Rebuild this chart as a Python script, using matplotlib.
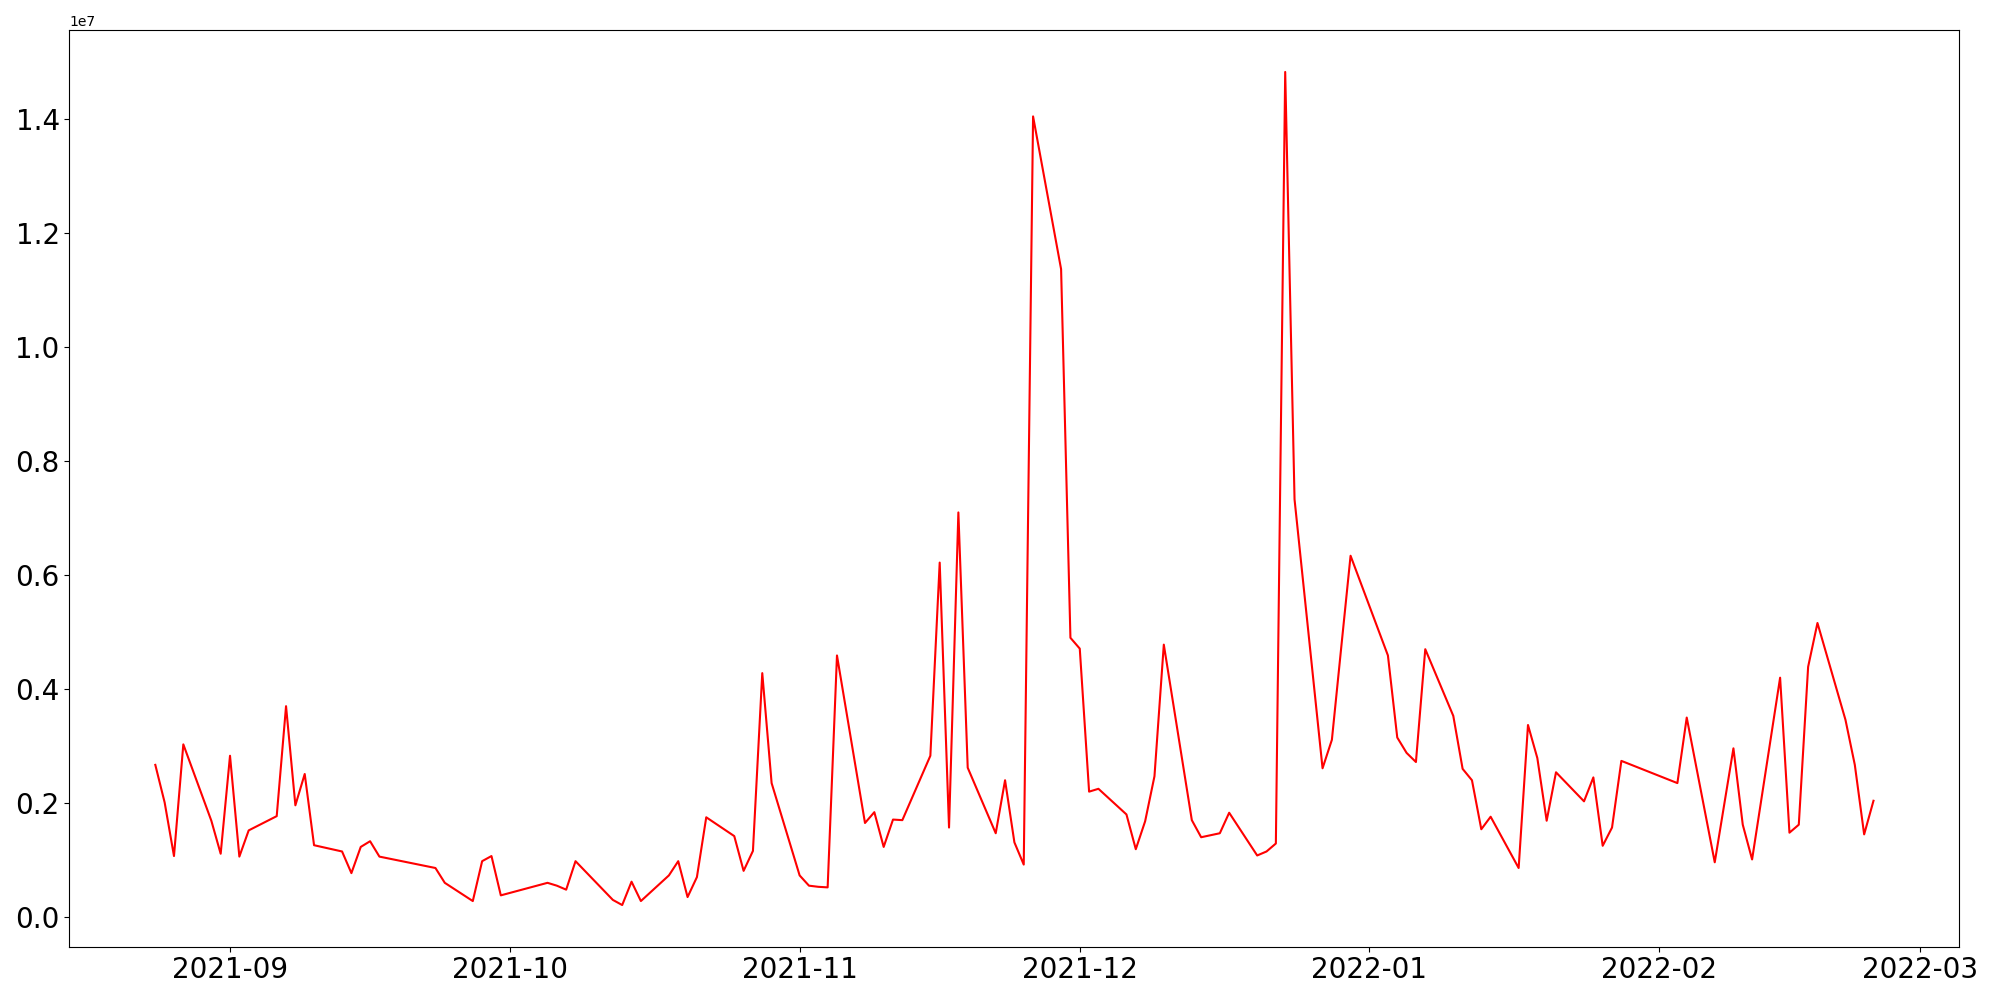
import numpy as np
import pandas as pd
import matplotlib
matplotlib.use("Agg")
import matplotlib.pyplot as plt

# daily values (trading days)
dates = pd.to_datetime([
    "2021-08-24", "2021-08-25", "2021-08-26", "2021-08-27", "2021-08-30",
    "2021-08-31", "2021-09-01", "2021-09-02", "2021-09-03", "2021-09-06",
    "2021-09-07", "2021-09-08", "2021-09-09", "2021-09-10", "2021-09-13",
    "2021-09-14", "2021-09-15", "2021-09-16", "2021-09-17", "2021-09-23",
    "2021-09-24", "2021-09-27", "2021-09-28", "2021-09-29", "2021-09-30",
    "2021-10-05", "2021-10-06", "2021-10-07", "2021-10-08", "2021-10-12",
    "2021-10-13", "2021-10-14", "2021-10-15", "2021-10-18", "2021-10-19",
    "2021-10-20", "2021-10-21", "2021-10-22", "2021-10-25", "2021-10-26",
    "2021-10-27", "2021-10-28", "2021-10-29", "2021-11-01", "2021-11-02",
    "2021-11-03", "2021-11-04", "2021-11-05", "2021-11-08", "2021-11-09",
    "2021-11-10", "2021-11-11", "2021-11-12", "2021-11-15", "2021-11-16",
    "2021-11-17", "2021-11-18", "2021-11-19", "2021-11-22", "2021-11-23",
    "2021-11-24", "2021-11-25", "2021-11-26", "2021-11-29", "2021-11-30",
    "2021-12-01", "2021-12-02", "2021-12-03", "2021-12-06", "2021-12-07",
    "2021-12-08", "2021-12-09", "2021-12-10", "2021-12-13", "2021-12-14",
    "2021-12-16", "2021-12-17", "2021-12-20", "2021-12-21", "2021-12-22",
    "2021-12-23", "2021-12-24", "2021-12-27", "2021-12-28", "2021-12-29",
    "2021-12-30", "2022-01-03", "2022-01-04", "2022-01-05", "2022-01-06",
    "2022-01-07", "2022-01-10", "2022-01-11", "2022-01-12", "2022-01-13",
    "2022-01-14", "2022-01-17", "2022-01-18", "2022-01-19", "2022-01-20",
    "2022-01-21", "2022-01-24", "2022-01-25", "2022-01-26", "2022-01-27",
    "2022-01-28", "2022-02-03", "2022-02-04", "2022-02-07", "2022-02-09",
    "2022-02-10", "2022-02-11", "2022-02-14", "2022-02-15", "2022-02-16",
    "2022-02-17", "2022-02-18", "2022-02-21", "2022-02-22", "2022-02-23",
    "2022-02-24",
])

values_m = [
    2.67, 2.01, 1.07, 3.03, 1.69,
    1.11, 2.83, 1.06, 1.52, 1.77,
    3.70, 1.96, 2.51, 1.26, 1.15,
    0.77, 1.23, 1.33, 1.06, 0.86,
    0.60, 0.28, 0.98, 1.07, 0.38,
    0.60, 0.55, 0.48, 0.98, 0.30,
    0.21, 0.62, 0.28, 0.73, 0.98,
    0.35, 0.70, 1.75, 1.42, 0.81,
    1.16, 4.28, 2.35, 0.73, 0.55,
    0.53, 0.52, 4.59, 1.65, 1.84,
    1.23, 1.71, 1.70, 2.83, 6.22,
    1.57, 7.10, 2.62, 1.47, 2.40,
    1.31, 0.92, 14.05, 11.37, 4.90,
    4.71, 2.20, 2.25, 1.80, 1.19,
    1.68, 2.47, 4.78, 1.70, 1.40,
    1.47, 1.83, 1.08, 1.15, 1.29,
    14.83, 7.33, 2.61, 3.11, 4.73,
    6.34, 4.59, 3.15, 2.88, 2.72,
    4.70, 3.53, 2.60, 2.40, 1.54,
    1.76, 0.86, 3.37, 2.79, 1.69,
    2.54, 2.03, 2.45, 1.25, 1.57,
    2.74, 2.35, 3.50, 0.96, 2.96,
    1.62, 1.01, 4.20, 1.48, 1.62,
    4.39, 5.16, 3.46, 2.67, 1.45,
    2.04,
]
values = np.array(values_m) * 1e6

fig, ax = plt.subplots(figsize=(20, 10), dpi=100)
ax.plot(dates, values, color="red")
plt.xticks(fontsize=20)
plt.yticks(fontsize=20)
plt.subplots_adjust(left=0.0347, right=0.9797, bottom=0.0533, top=0.9697)
plt.savefig("out.png", dpi=100)
plt.close()
